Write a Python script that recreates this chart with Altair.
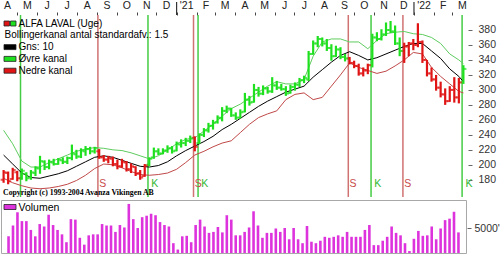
import altair as alt
import pandas as pd
from datetime import date

# ------------------------------------------------------------------ data
opens = [180, 189, 181, 190, 182, 188, 183, 189, 195, 204, 197, 203, 201, 206, 204, 209, 214, 211, 218, 221,
         218, 218, 210, 207, 208, 201, 198, 203, 194, 197, 189, 185, 200, 210, 218, 215, 219, 222, 219, 227,
         229, 232, 236, 229, 240, 246, 252, 257, 262, 272, 275, 266, 263, 271, 287, 284, 300, 295, 302, 298,
         306, 303, 301, 296, 304, 307, 313, 314, 348, 362, 368, 362, 356, 345, 354, 344, 342, 336, 332, 322,
         326, 333, 370, 368, 374, 380, 378, 362, 352, 358, 362, 360, 364, 340, 322, 314, 303, 294, 285, 300,
         290, 310]
highs = [193, 191, 196, 192, 195, 190, 193, 198, 212, 206, 207, 208, 209, 210, 211, 227, 220, 222, 225, 224,
         224, 221, 213, 212, 211, 207, 208, 205, 202, 198, 193, 201, 210, 223, 222, 222, 226, 225, 231, 234,
         236, 239, 238, 242, 249, 256, 260, 266, 277, 279, 276, 270, 274, 296, 292, 308, 304, 306, 304, 317,
         312, 308, 305, 307, 310, 316, 319, 352, 366, 372, 370, 368, 361, 359, 357, 348, 344, 339, 335, 330,
         335, 375, 377, 381, 390, 392, 386, 370, 363, 364, 368, 389, 366, 340, 330, 320, 311, 302, 305, 317,
         316, 333]
lows = [176, 174, 180, 178, 180, 178, 180, 185, 188, 193, 194, 199, 200, 201, 201, 206, 208, 209, 212, 214,
        215, 208, 204, 202, 198, 194, 196, 191, 189, 185, 180, 184, 198, 208, 213, 214, 216, 215, 218, 223,
        225, 229, 218, 228, 237, 243, 247, 255, 258, 269, 264, 260, 262, 270, 279, 283, 291, 293, 295, 296,
        300, 299, 292, 295, 299, 304, 309, 312, 347, 357, 358, 352, 339, 344, 341, 338, 334, 329, 319, 318,
        321, 330, 365, 366, 372, 376, 360, 345, 336, 345, 353, 357, 336, 318, 311, 299, 290, 280, 284, 283,
        282, 308]
closes = [190, 178, 193, 182, 192, 182, 190, 196, 205, 197, 204, 201, 207, 204, 209, 215, 211, 219, 221, 218,
          222, 210, 207, 209, 201, 198, 204, 194, 198, 188, 183, 199, 208, 218, 215, 219, 222, 218, 228, 229,
          232, 235, 224, 240, 246, 252, 256, 263, 272, 275, 266, 263, 270, 287, 283, 300, 295, 302, 298, 306,
          303, 301, 295, 304, 307, 313, 316, 348, 362, 368, 362, 356, 345, 354, 344, 342, 336, 332, 322, 326,
          333, 370, 368, 374, 380, 378, 362, 352, 358, 362, 360, 364, 340, 322, 314, 303, 294, 285, 300, 290,
          310, 328]
volumes = [3400, 5600, 8300, 6500, 6500, 4700, 3400, 5900, 5400, 7800, 5700, 4700, 3800, 2200, 6900, 6800,
           3100, 1700, 3600, 3800, 3800, 5900, 5600, 5600, 4300, 5700, 5200, 10000, 6900, 5100, 7300, 7600,
           8000, 7700, 6300, 5700, 5400, 2000, 700, 3400, 3500, 2200, 5700, 6800, 5400, 4100, 4300, 5300,
           4200, 7700, 6800, 3600, 3600, 4300, 5200,
           8500, 5600, 3100, 4100, 4100, 5000, 4300, 5100, 2800, 5100, 2800, 2000, 5500, 2300, 2000, 2500,
           3300, 3100, 3300, 3600, 3300, 4300, 3300, 3300, 3300, 4700, 5700, 1600, 1600, 2500, 3300, 5400,
           4100, 3600, 2000, 400, 2900, 4500, 3500, 3600, 5400, 2800, 5000, 6700, 7000, 8400, 4200]

band_weeks = [0, 2, 4, 6, 8, 10, 12, 14, 16, 18, 20, 22, 24, 26, 28, 30, 32, 34, 36, 38, 40, 42, 44, 46, 48,
              50, 52, 54, 56, 58, 60, 62, 64, 66, 68, 70, 72, 74, 76, 78, 80, 82, 84, 86, 88, 90, 92, 94, 96,
              98, 100, 101]
upper_band = [246, 228, 205, 197, 197, 203, 208, 213, 218, 221, 223, 222, 220, 219, 216, 212, 208, 212, 220,
              228, 234, 236, 245, 254, 265, 275, 281, 289, 297, 305, 311, 308, 308, 314, 345, 364, 368, 368,
              364, 364, 355, 366, 375, 377, 378, 375, 374, 370, 362, 348, 340, 335]
mid_band = [213, 201, 189, 183, 182, 185, 188, 192, 198, 204, 210, 212, 210, 206, 202, 198, 197, 199, 204,
            212, 219, 225, 231, 238, 247, 254, 262, 270, 278, 285, 291, 297, 301, 305, 317, 327, 337, 346,
            351, 346, 340, 343, 348, 353, 358, 362, 362, 352, 342, 328, 318, 311]
lower_band = [182, 176, 172, 169, 168, 169, 171, 174, 179, 186, 195, 201, 200, 196, 191, 187, 186, 187, 189,
              194, 203, 213, 218, 224, 229, 232, 243, 254, 263, 268, 272, 287, 294, 296, 287, 290, 305, 320,
              336, 330, 326, 322, 325, 332, 340, 350, 348, 330, 318, 308, 298, 296]

signal_weeks = [4, 21, 32, 42, 43, 76, 81, 88, 101]
signal_kinds = ["K", "S", "K", "S", "K", "S", "K", "S", "K"]
signal_labelled = [False, True, True, True, True, True, True, True, True]

month_letters = ["A", "M", "J", "J", "A", "S", "O", "N", "D", "'21", "F", "M",
                 "A", "M", "J", "J", "A", "S", "O", "N", "D", "'22", "F", "M"]
price_ticks = [180, 200, 220, 240, 260, 280, 300, 320, 340, 360, 380]
volume_ticks = [5000]

legend_lines = ["ALFA LAVAL (Uge)", "Bollingerkanal antal standardafv.: 1.5", "Gns: 10", "Øvre kanal", "Nedre kanal"]
copyright_text = "Copyright (c) 1993-2004 Avanza Vikingen AB"

# ------------------------------------------------------------------ build tables
AXIS_START = date(2020, 4, 6)
FIRST_WEEK = date(2020, 4, 10)
AXIS_DAYS = 715


def day_of(d):
    return (d - AXIS_START).days


n = len(closes)
bar_days = [day_of(FIRST_WEEK) + 7 * i for i in range(n)]
sig_map = dict(zip(signal_weeks, signal_kinds))
regime, state = [], "S"
for i in range(n):
    state = sig_map.get(i, state)
    regime.append(state)

bars = pd.DataFrame({"day": bar_days, "open": opens, "high": highs, "low": lows,
                     "close": closes, "regime": regime})
vol = pd.DataFrame({"day": bar_days, "vol": volumes})
bands = pd.DataFrame({"day": [bar_days[w] for w in band_weeks], "upper": upper_band,
                      "mid": mid_band, "lower": lower_band})
sigs = pd.DataFrame({"day": [bar_days[w] for w in signal_weeks], "kind": signal_kinds,
                     "labelled": signal_labelled})

starts, mids, letters, years = [], [], [], []
y, m = 2020, 4
for k in range(len(month_letters)):
    s = date(y, m, 1)
    ny, nm = (y + 1, 1) if m == 12 else (y, m + 1)
    e = date(ny, nm, 1)
    starts.append(day_of(s))
    mids.append((day_of(s) + day_of(e)) / 2)
    letters.append(month_letters[k])
    years.append(m == 1)
    y, m = ny, nm
tick_values = [s for s in starts if 0 <= s <= AXIS_DAYS]
mlab = pd.DataFrame({"mid": mids, "lab": letters})
yticks = pd.DataFrame({"day": [s for s, yr in zip(starts, years) if yr]})
dummy = pd.DataFrame({"a": [0]})

# ------------------------------------------------------------------ styling
FONT = "Liberation Sans"
GREEN = "#1fe01f"
RED = "#e01414"
W, H, VH = 465, 182, 53

xscale = alt.Scale(domain=[0, AXIS_DAYS], nice=False, zero=False)
xaxis = alt.Axis(orient="top", values=tick_values, labels=False, tickSize=3, tickColor="#444",
                 tickWidth=1, domain=False, grid=False, title=None)
yscale = alt.Scale(domain=[157, 400], nice=False, zero=False)
yaxis = alt.Axis(orient="right", values=price_ticks, tickSize=4, offset=2, labelPadding=6,
                 domain=False, grid=False, title=None, labelFont=FONT, labelFontSize=10.5,
                 labelColor="#333", tickColor="#666")


def X(f):
    return alt.X(f"{f}:Q", scale=xscale, axis=xaxis)


def Y(f):
    return alt.Y(f"{f}:Q", scale=yscale, axis=yaxis)


regime_color = alt.Color("regime:N", scale=alt.Scale(domain=["K", "S"], range=[GREEN, RED]), legend=None)
signal_color = alt.Color("kind:N", scale=alt.Scale(domain=["K", "S"], range=["#44cc44", "#d07272"]), legend=None)

sig_rules = alt.Chart(sigs).mark_rule(strokeWidth=1.5, xOffset=-1.3).encode(x=X("day"), color=signal_color)
s_text = alt.Chart(sigs).transform_filter("datum.labelled && datum.kind == 'S'").mark_text(
    font=FONT, fontSize=10.5, dx=3.5, align="center", baseline="middle", color="#c84a4a").encode(
    x=X("day"), y=alt.value(168.5), text="kind:N")
k_text = alt.Chart(sigs).transform_filter("datum.labelled && datum.kind == 'K'").mark_text(
    font=FONT, fontSize=10.5, dx=5.5, align="center", baseline="middle", color="#33b833").encode(
    x=X("day"), y=alt.value(168.5), text="kind:N")

up_line = alt.Chart(bands).mark_line(color="#5fcc5f", strokeWidth=1).encode(x=X("day"), y=Y("upper"))
mid_line = alt.Chart(bands).mark_line(color="#000000", strokeWidth=1).encode(x=X("day"), y=Y("mid"))
lo_line = alt.Chart(bands).mark_line(color="#c04848", strokeWidth=1).encode(x=X("day"), y=Y("lower"))

hl = alt.Chart(bars).mark_rule(strokeWidth=2.2).encode(x=X("day"), y=Y("low"), y2="high:Q", color=regime_color)
op = alt.Chart(bars).mark_tick(orient="horizontal", size=3, thickness=2, xOffset=-1.5).encode(
    x=X("day"), y=Y("open"), color=regime_color)
cl = alt.Chart(bars).mark_tick(orient="horizontal", size=3, thickness=2, xOffset=1.5).encode(
    x=X("day"), y=Y("close"), color=regime_color)

month_text = alt.Chart(mlab).mark_text(font=FONT, fontSize=10.5, color="#222", baseline="middle",
                                       align="center").encode(x=X("mid"), y=alt.value(-9.5), text="lab:N")
year_rules = alt.Chart(yticks).mark_rule(color="#333", strokeWidth=1.2).encode(
    x=X("day"), y=alt.value(-13), y2=alt.value(0))


def txt(t, x, y, size=10, font=FONT, weight="normal", color="#000"):
    return alt.Chart(dummy).mark_text(text=t, align="left", baseline="middle", font=font, fontSize=size,
                                      fontWeight=weight, color=color).encode(x=alt.value(x), y=alt.value(y))


def box(x1, x2, y1, y2, fill):
    return alt.Chart(dummy).mark_rect(color=fill, stroke="#222", strokeWidth=0.8).encode(
        x=alt.value(x1), x2=alt.value(x2), y=alt.value(y1), y2=alt.value(y2))


ly = [8.5, 20.3, 32.1, 43.9, 55.7]
legend = [
    box(3, 8.5, ly[0] - 2.5, ly[0] + 2.5, RED), box(9.5, 15, ly[0] - 2.5, ly[0] + 2.5, GREEN),
    txt(legend_lines[0], 17.5, ly[0]),
    txt(legend_lines[1], 3.5, ly[1]),
    box(3, 15, ly[2] - 2.5, ly[2] + 2.5, "#000"), txt(legend_lines[2], 17.5, ly[2]),
    box(3, 15, ly[3] - 2.5, ly[3] + 2.5, GREEN), txt(legend_lines[3], 17.5, ly[3]),
    box(3, 15, ly[4] - 2.5, ly[4] + 2.5, RED), txt(legend_lines[4], 17.5, ly[4]),
    txt(copyright_text, 2, 177.5, size=7.8, font="Liberation Serif", weight="bold"),
]

price = alt.layer(sig_rules, up_line, lo_line, mid_line, hl, op, cl, s_text, k_text, month_text, year_rules,
                  *legend).resolve_scale(color="independent").properties(width=W, height=H)

vscale = alt.Scale(domain=[0, 10800], nice=False)
vaxis = alt.Axis(orient="right", values=volume_ticks, tickSize=4, offset=1, labelPadding=3,
                 domain=False, grid=False, title=None, labelFont=FONT, labelFontSize=10.5,
                 labelColor="#333", tickColor="#666",
                 labelExpr="datum.value == 5000 ? \"5000'\" : ''")
vbars = alt.Chart(vol).mark_bar(size=2.6, color="#dd33dd").encode(
    x=alt.X("day:Q", scale=xscale, axis=None), y=alt.Y("vol:Q", scale=vscale, axis=vaxis))
vlegend = [box(3, 15, 4.5, 9.5, "#dd33dd"), txt("Volumen", 17.5, 7.5, size=10.5)]
volume = alt.layer(vbars, *vlegend).properties(width=W, height=VH,
                                               view=alt.ViewBackground(stroke="#a8a8a8"))

chart = alt.vconcat(price, volume, spacing=1).properties(
    padding={"left": 0, "top": 0, "right": 0, "bottom": 0}, background="white"
).configure_view(stroke=None)

chart.save("out.html", embed_options={"renderer": "svg", "actions": False})
